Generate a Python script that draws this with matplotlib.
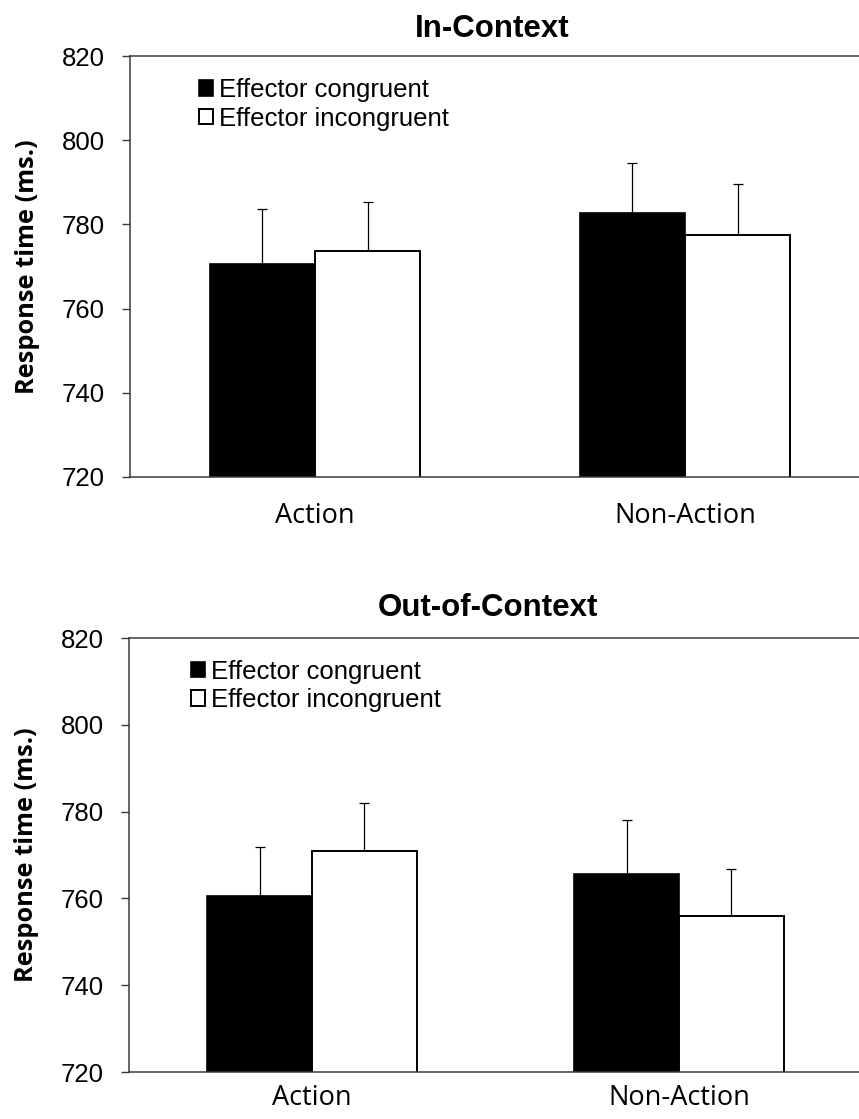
import numpy as np
import matplotlib
matplotlib.use("Agg")
import matplotlib.pyplot as plt

# data
conditions = ["Action", "Non-Action"]
series_names = ["Effector congruent", "Effector incongruent"]
panel_titles = ["In-Context", "Out-of-Context"]

in_congruent = [770.7, 782.6]
in_incongruent = [773.7, 777.4]
in_congruent_err = [13.0, 12.1]
in_incongruent_err = [11.6, 12.2]

out_congruent = [760.5, 765.7]
out_incongruent = [771.0, 755.9]
out_congruent_err = [11.3, 12.4]
out_incongruent_err = [11.0, 10.9]

yticks = [720, 740, 760, 780, 800, 820]

W, H = 859, 1119
fig = plt.figure(figsize=(W / 100, H / 100), dpi=100)

# axes boxes in pixels: left, top, right, bottom
boxes = [(130, 56, 870, 477), (128.5, 638, 862.5, 1072)]
legend_pos = [(0.093, 0.948), (0.085, 0.950)]
title_pad = [14, 16]
xlabel_pad = [18, 8.5]  # bottom one pulled up so it is not cut by the edge

panels = [
    (in_congruent, in_incongruent, in_congruent_err, in_incongruent_err),
    (out_congruent, out_incongruent, out_congruent_err, out_incongruent_err),
]

bw = 0.285
x = np.arange(len(conditions))
spine_col = "#3a3a3a"

for i, (cong, incong, cerr, ierr) in enumerate(panels):
    l, t, r, b = boxes[i]
    ax = fig.add_axes([l / W, 1 - b / H, (r - l) / W, (b - t) / H])

    ax.bar(x - bw / 2, cong, bw, color="black", edgecolor="black",
           linewidth=1.2, label=series_names[0], zorder=2)
    ax.bar(x + bw / 2, incong, bw, color="white", edgecolor="black",
           linewidth=1.4, label=series_names[1], zorder=2)
    ax.errorbar(x - bw / 2, cong, yerr=[np.zeros(len(cerr)), cerr], fmt="none",
                ecolor="black", elinewidth=0.9, capsize=3.3, capthick=0.9, zorder=1)
    ax.errorbar(x + bw / 2, incong, yerr=[np.zeros(len(ierr)), ierr], fmt="none",
                ecolor="black", elinewidth=0.9, capsize=3.3, capthick=0.9, zorder=1)

    ax.set_ylim(720, 820)
    ax.set_xlim(-0.5, 1.5)
    ax.set_yticks(yticks)
    ax.set_xticks(x)
    ax.set_xticklabels(conditions, family="Open Sans", fontsize=19.5)
    ax.tick_params(axis="x", length=0, pad=xlabel_pad[i])
    ax.tick_params(axis="y", direction="out", length=6, width=1.0,
                   color=spine_col, pad=12)
    for lab in ax.get_yticklabels():
        lab.set_family("Liberation Sans")
        lab.set_fontsize(18.5)

    for side in ["left", "top", "bottom"]:
        ax.spines[side].set_color(spine_col)
        ax.spines[side].set_linewidth(1.1)
    ax.spines["right"].set_visible(False)

    ax.set_ylabel("Response time (ms.)", family="Open Sans", fontweight="bold",
                  fontsize=18.3)
    ax.yaxis.set_label_coords(-0.122, 0.5)

    ax.set_title(panel_titles[i], family="Liberation Sans", fontweight="bold",
                 fontsize=22.5, pad=title_pad[i], x=0.49)

    ax.legend(loc="upper left", bbox_to_anchor=legend_pos[i], frameon=False,
              prop={"family": "Liberation Sans", "size": 18.5},
              handlelength=0.55, handleheight=0.55, handletextpad=0.25,
              labelspacing=0.18, borderpad=0, borderaxespad=0)

fig.savefig("out.png", dpi=100)
